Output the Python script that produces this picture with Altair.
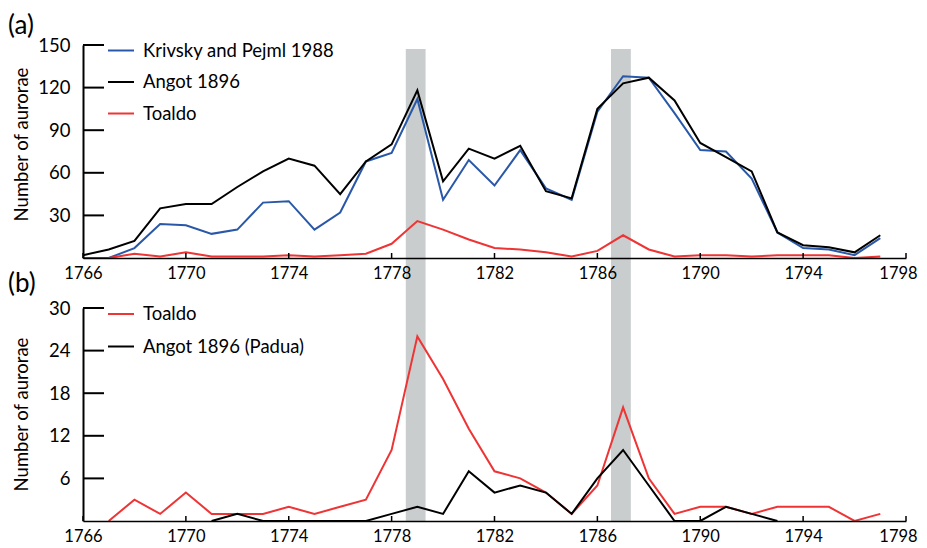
import altair as alt
import pandas as pd

# ---------------- data ----------------
years = list(range(1766, 1798))

krivsky = [0, 0, 7, 24, 23, 17, 20, 39, 40, 20, 32, 68, 74, 112, 41, 69,
           51, 76, 49, 41, 103, 128, 127, 102, 76, 75, 56, 18, 7, 6, 2, 14]
angot = [2, 6, 12, 35, 38, 38, 50, 61, 70, 65, 45, 68, 80, 118, 54, 77,
         70, 79, 47, 42, 105, 123, 127, 111, 81, 71, 61, 18, 9, 7.5, 4, 16]
toaldo = [None, 0, 3, 1, 4, 1, 1, 1, 2, 1, 2, 3, 10, 26, 20, 13,
          7, 6, 4, 1, 5, 16, 6, 1, 2, 2, 1, 2, 2, 2, 0, 1]
angot_padua = [None, None, None, None, None, 0, 1, 0, 0, 0, 0, 0, 1, 2, 1, 7,
               4, 5, 4, 1, 6, 10, 5, 0, 0, 2, 1, 0, None, None, None, None]

names_a = ["Krivsky and Pejml 1988", "Angot 1896", "Toaldo"]
names_b = ["Toaldo", "Angot 1896 (Padua)"]

band_start = [1778.55, 1786.53]
band_end = [1779.32, 1787.30]

x_ticks = [1766, 1770, 1774, 1778, 1782, 1786, 1790, 1794, 1798]
y_ticks_a = [30, 60, 90, 120, 150]
y_ticks_b = [6, 12, 18, 24, 30]

# ---------------- styling ----------------
W, H, GAP = 823, 213, 50
FONT = "Lato"
FS = 18.5
XFS = 16.5
BLUE, BLACK, RED = "#2a58a8", "#000000", "#ee3434"
BAND = "#c9cdcd"


def long_df(series):
    rows = []
    for name, vals in series:
        for y, v in zip(years, vals):
            if v is not None:
                rows.append({"year": y, "value": v, "series": name})
    return pd.DataFrame(rows)


df_a = long_df([(names_a[0], krivsky), (names_a[1], angot), (names_a[2], toaldo)])
df_b = long_df([(names_b[0], toaldo), (names_b[1], angot_padua)])
df_band = pd.DataFrame({"start": band_start, "end": band_end})
df_xt = pd.DataFrame({"v": x_ticks})

xscale = alt.Scale(domain=[x_ticks[0], x_ticks[-1]], nice=False, zero=False)

# last label nudged left slightly so the page does not need to shrink the chart
last_label_shift = {"condition": {"test": f"datum.value == {x_ticks[-1]}", "value": -8},
                    "value": 0}

x_axis = alt.Axis(values=x_ticks, format="d", title=None, grid=False,
                  ticks=False, tickSize=0, labelPadding=7,
                  labelFont=FONT, labelFontSize=XFS, labelColor="black",
                  labelOffset=last_label_shift,
                  domainColor="black", domainWidth=1.5, zindex=1,
                  labelFlush=False)


def y_axis(yticks, title_y):
    return alt.Axis(values=yticks, title="Number of aurorae", grid=False,
                    ticks=False, tickSize=0, labelPadding=13,
                    labelFont=FONT, labelFontSize=FS, labelColor="black",
                    titleFont=FONT, titleFontSize=FS, titleFontWeight="normal",
                    titleColor="black", titleX=-71, titleY=title_y,
                    titleAngle=270, titleAlign="center",
                    titleBaseline="top",
                    domainColor="black", domainWidth=2, zindex=1)


def panel(df, names, colors, ydom, yticks, label, label_y, title_y, row_pad, leg_y, band_y2):
    yscale = alt.Scale(domain=ydom, nice=False, zero=True)
    yax = y_axis(yticks, title_y)
    band = alt.Chart(df_band).mark_rect(color=BAND).encode(
        x=alt.X("start:Q", scale=xscale, axis=x_axis),
        x2="end:Q",
        y=alt.value(4 if band_y2 > H else 0),
        y2=alt.value(band_y2),
    )
    lines = alt.Chart(df).mark_line(strokeWidth=2).encode(
        x=alt.X("year:Q", scale=xscale, axis=x_axis),
        y=alt.Y("value:Q", scale=yscale, axis=yax),
        color=alt.Color("series:N", sort=names,
                        scale=alt.Scale(domain=names, range=colors),
                        legend=alt.Legend(title=None, orient="none", legendX=24,
                                          legendY=leg_y, symbolType="stroke",
                                          symbolSize=676, symbolStrokeWidth=2,
                                          labelFont=FONT, labelFontSize=FS,
                                          labelColor="black", labelOffset=8,
                                          labelLimit=0,
                                          rowPadding=row_pad, padding=0)),
        order=alt.Order("year:Q"),
    )
    yt = alt.Chart(pd.DataFrame({"v": yticks})).mark_rule(color="black", strokeWidth=2).encode(
        y=alt.Y("v:Q", scale=yscale, axis=yax),
        x=alt.value(0),
        x2=alt.value(21),
    )
    xt = alt.Chart(df_xt).mark_rule(color="black", strokeWidth=1.5).encode(
        x=alt.X("v:Q", scale=xscale, axis=x_axis),
        y=alt.value(H),
        y2=alt.value(H - 5),
    )
    lab = alt.Chart(pd.DataFrame({"t": [label]})).mark_text(
        font=FONT, fontSize=26, align="left", baseline="top", color="black"
    ).encode(text="t:N", x=alt.value(-75), y=alt.value(label_y))
    return alt.layer(band, lines, yt, xt, lab).properties(width=W, height=H)


pa = panel(df_a, names_a, [BLUE, BLACK, RED], [0, 150], y_ticks_a, "(a)", -32, 99, 7.5, -8.5, H + GAP)
pb = panel(df_b, names_b, [RED, BLACK], [0, 30], y_ticks_b, "(b)", -37, 106, 8.5, -8, H)

chart = alt.vconcat(pa, pb, spacing=GAP, bounds="flush").resolve_scale(
    color="independent"
).properties(
    padding={"left": 0, "top": 5, "right": 0, "bottom": 0}
).configure_view(stroke=None)

chart.save("out.html", embed_options={"renderer": "svg", "actions": False})
